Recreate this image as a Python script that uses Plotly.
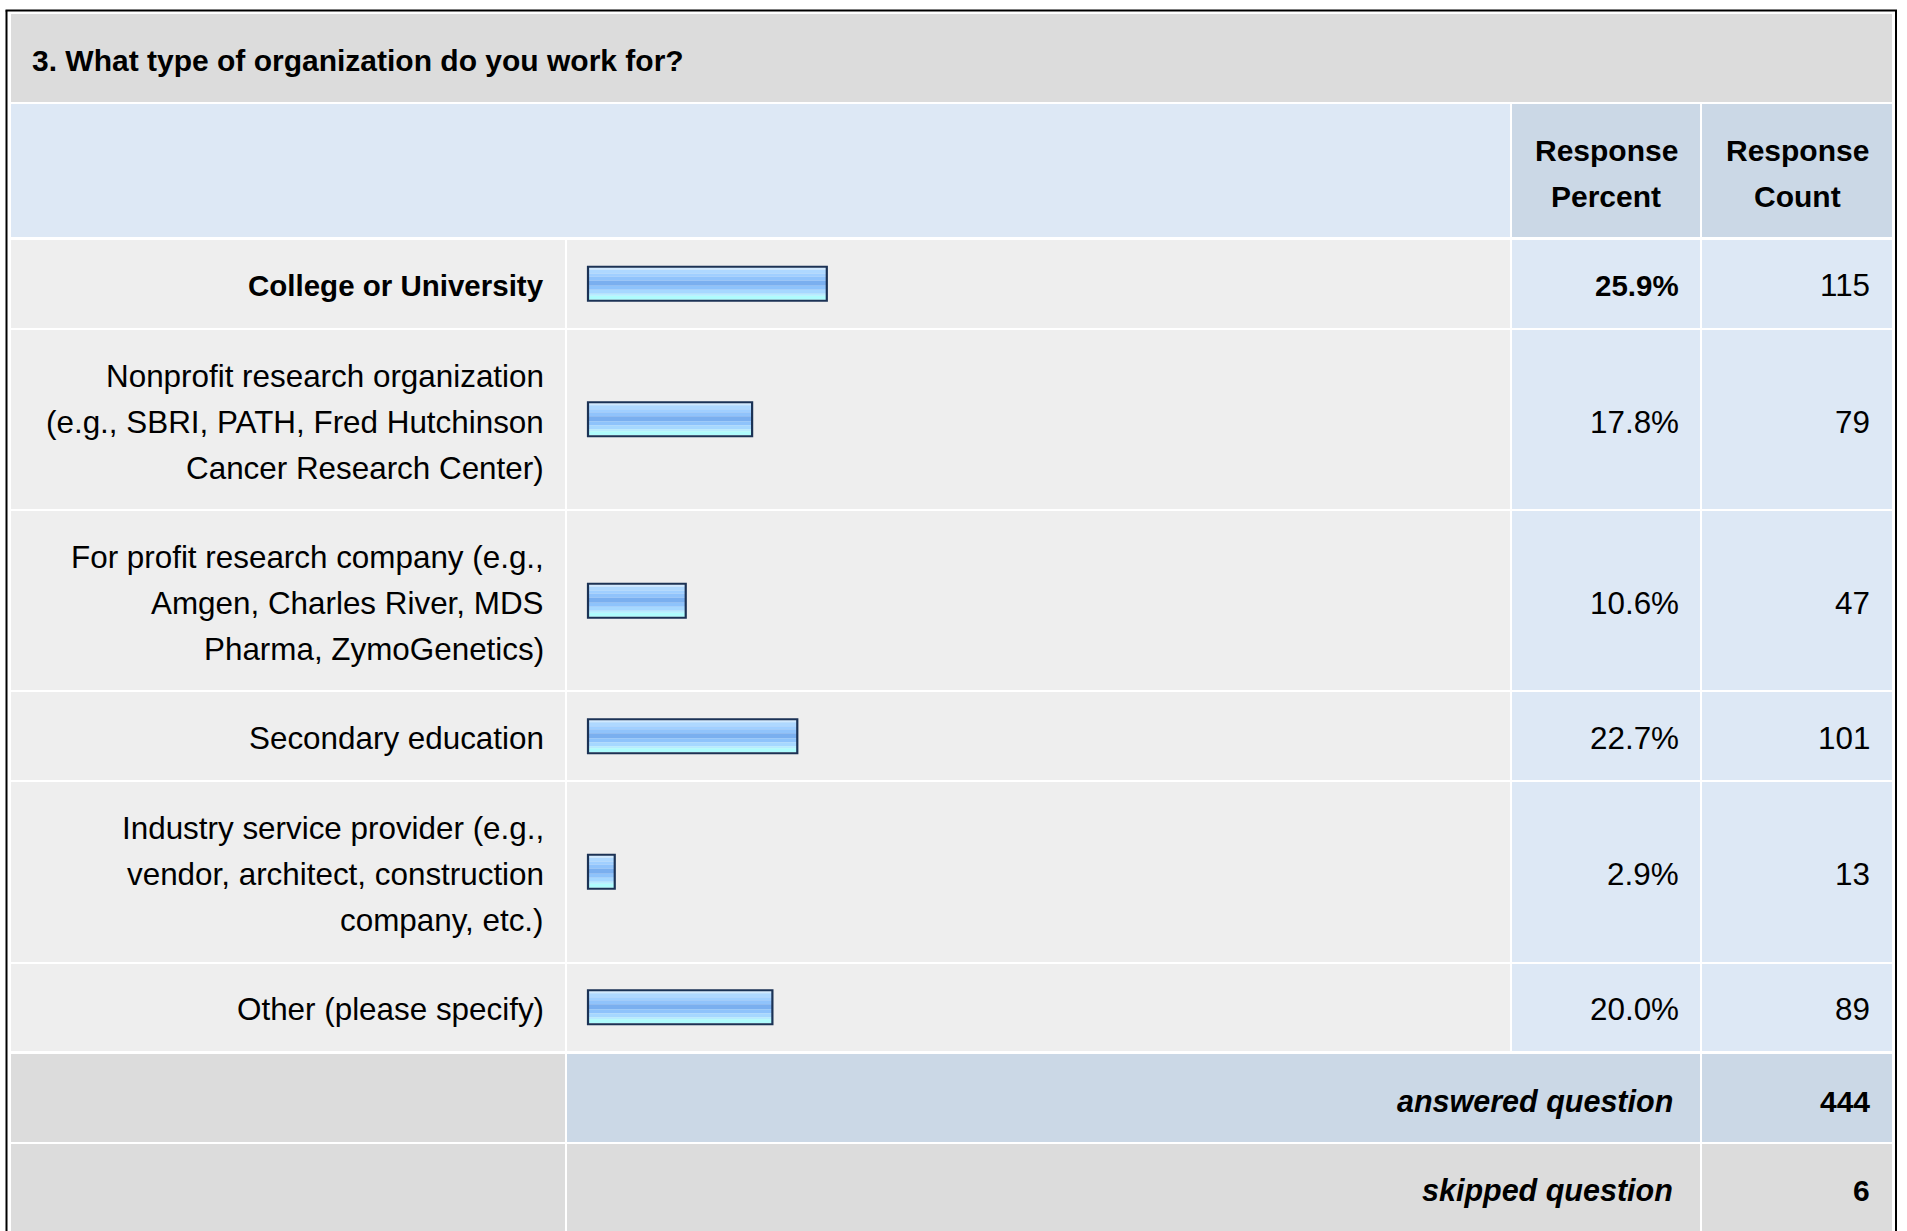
import plotly.graph_objects as go

# ---------------- data ----------------
title = "3. What type of organization do you work for?"
categories = [
    "College or University",
    "Nonprofit research organization<br>(e.g., SBRI, PATH, Fred Hutchinson<br>Cancer Research Center)",
    "For profit research company (e.g.,<br>Amgen, Charles River, MDS<br>Pharma, ZymoGenetics)",
    "Secondary education",
    "Industry service provider (e.g.,<br>vendor, architect, construction<br>company, etc.)",
    "Other (please specify)",
]
percents = [25.9, 17.8, 10.6, 22.7, 2.9, 20.0]
counts = [115, 79, 47, 101, 13, 89]
header_labels = ["Response<br>Percent", "Response<br>Count"]
answered_label = "answered question"
answered_count = 444
skipped_label = "skipped question"
skipped_count = 6

# ---------------- layout constants (pixels) ----------------
W, H = 1907, 1231
FONT = "Liberation Sans, Arial, Helvetica, sans-serif"
REG = 31.4
BOLD = 30
BOLD_ROW = 29.5
BOLD_IT = 30.5
LINE_H = 46
GAP = 2
PAD = 41.5
TEXT_DY = 3

COL_LABEL = (11, 565)
COL_BAR = (567, 1510)
COL_PCT = (1512, 1700)
COL_CNT = (1702, 1892)
TITLE_Y = (14, 102)
HEAD_Y = (104, 237)
ROW0 = 240
BAR_X0 = 588
PX_PER_PCT = 9.22

X_LABEL_R = 545.5
X_PCT_R = 1680.5
X_CNT_R = 1871.5
X_SUM_R = 1675
X_TITLE_L = 29.5

C_GRAY = "#dcdcdc"
C_ROW = "#eeeeee"
C_LBLUE = "#dde8f5"
C_MBLUE = "#cbd8e6"

STRIPES = [(2, "#cfe9ff"), (4, "#aed8ff"), (3, "#a0cfff"), (4, "#90c3fb"),
           (5, "#7aafef"), (4, "#8ec3fb"), (4, "#a6d8ff"), (2, "#b6ecff"),
           (4, "#affcfd")]
BAR_BORDER = "#1b3255"


def px(x):
    return x / W


def py(y):
    return 1 - y / H


shapes = []
annotations = []


def cell(x0, x1, y0, y1, color):
    shapes.append(dict(type="rect", xref="paper", yref="paper", layer="below",
                       x0=px(x0), x1=px(x1), y0=py(y1), y1=py(y0),
                       fillcolor=color, line=dict(width=0)))


def text(s, x, y, anchor, size, color="#000000"):
    annotations.append(dict(text=s, x=px(x), y=py(y + TEXT_DY), xref="paper", yref="paper",
                            xanchor=anchor, yanchor="middle", showarrow=False,
                            font=dict(family=FONT, size=size, color=color)))


def multiline(s, x, yc, anchor, size, wrap=("", "")):
    lines = s.split("<br>")
    n = len(lines)
    for i, ln in enumerate(lines):
        text(wrap[0] + ln + wrap[1], x, yc + (i - (n - 1) / 2) * LINE_H, anchor, size)


# title band
cell(COL_LABEL[0], COL_CNT[1], TITLE_Y[0], TITLE_Y[1], C_GRAY)
text("<b>" + title + "</b>", X_TITLE_L, (TITLE_Y[0] + TITLE_Y[1]) / 2 - 1, "left", BOLD)

# header band
cell(COL_LABEL[0], COL_BAR[1], HEAD_Y[0], HEAD_Y[1], C_LBLUE)
cell(COL_PCT[0], COL_PCT[1], HEAD_Y[0], HEAD_Y[1], C_MBLUE)
cell(COL_CNT[0], COL_CNT[1], HEAD_Y[0], HEAD_Y[1], C_MBLUE)
hc = (HEAD_Y[0] + HEAD_Y[1]) / 2 - 0.5
multiline(header_labels[0], (COL_PCT[0] + COL_PCT[1]) / 2, hc, "center", BOLD, ("<b>", "</b>"))
multiline(header_labels[1], (COL_CNT[0] + COL_CNT[1]) / 2, hc, "center", BOLD, ("<b>", "</b>"))

# data rows
top = ROW0
row_centers = []
best = max(percents)
for cat, p, c in zip(categories, percents, counts):
    n = len(cat.split("<br>"))
    h = PAD + LINE_H * n
    y0, y1 = round(top), round(top + h)
    cell(COL_LABEL[0], COL_LABEL[1], y0, y1, C_ROW)
    cell(COL_BAR[0], COL_BAR[1], y0, y1, C_ROW)
    cell(COL_PCT[0], COL_PCT[1], y0, y1, C_LBLUE)
    cell(COL_CNT[0], COL_CNT[1], y0, y1, C_LBLUE)
    yc = (top + top + h) / 2
    row_centers.append(yc)
    isbest = p == best
    wrap = ("<b>", "</b>") if isbest else ("", "")
    dy = -0.8 if n == 1 else 0
    multiline(cat, X_LABEL_R, yc + dy, "right", BOLD_ROW if isbest else REG, wrap)
    text(wrap[0] + f"{p:.1f}%" + wrap[1], X_PCT_R, yc + dy, "right", BOLD_ROW if isbest else REG)
    text(f"{c}", X_CNT_R, yc + dy, "right", REG)
    top += h + GAP

# answered row
top += 1
h = PAD + LINE_H
y0, y1 = round(top), round(top + h)
cell(COL_LABEL[0], COL_LABEL[1], y0, y1, C_GRAY)
cell(COL_BAR[0], COL_PCT[1], y0, y1, C_MBLUE)
cell(COL_CNT[0], COL_CNT[1], y0, y1, C_MBLUE)
yc = (top + top + h) / 2 + 1
text("<b><i>" + answered_label + "</i></b>", X_SUM_R, yc, "right", BOLD_IT)
text(f"<b>{answered_count}</b>", X_CNT_R, yc, "right", BOLD)
top += h + GAP + 1

# skipped row
y0 = round(top)
cell(COL_LABEL[0], COL_LABEL[1], y0, H + 20, C_GRAY)
cell(COL_BAR[0], COL_PCT[1], y0, H + 20, C_GRAY)
cell(COL_CNT[0], COL_CNT[1], y0, H + 20, C_GRAY)
yc = (top + top + h) / 2 - 1
text("<b><i>" + skipped_label + "</i></b>", X_SUM_R, yc, "right", BOLD_IT)
text(f"<b>{skipped_count}</b>", X_CNT_R, yc, "right", BOLD)

# outer border
for x0, x1, y0_, y1_ in [(6.5, 6.5, 10.5, H + 20), (5.5, 1897, 10.5, 10.5), (1896, 1896, 10.5, H + 20)]:
    shapes.append(dict(type="line", xref="paper", yref="paper", layer="above",
                       x0=px(x0), x1=px(x1), y0=py(y0_), y1=py(y1_),
                       line=dict(color="#000000", width=2)))

# ---------------- bars ----------------
fig = go.Figure()
inner = sum(s[0] for s in STRIPES)
off = -inner / 2
for hgt, col in STRIPES:
    fig.add_trace(go.Bar(x=percents, y=row_centers, orientation="h", width=hgt, offset=off,
                         marker=dict(color=col, line=dict(width=0)), hoverinfo="skip"))
    off += hgt
fig.add_trace(go.Bar(x=percents, y=row_centers, orientation="h", width=inner + 2, offset=-(inner + 2) / 2,
                     marker=dict(color="rgba(0,0,0,0)", line=dict(color=BAR_BORDER, width=2.2)),
                     hoverinfo="skip"))

xr = [(COL_BAR[0] - BAR_X0) / PX_PER_PCT, (COL_BAR[1] - BAR_X0) / PX_PER_PCT]
fig.update_layout(
    width=W, height=H, margin=dict(l=0, r=0, t=0, b=0, pad=0),
    paper_bgcolor="#ffffff", plot_bgcolor="rgba(0,0,0,0)",
    barmode="overlay", showlegend=False,
    xaxis=dict(domain=[px(COL_BAR[0]), px(COL_BAR[1])], range=xr, visible=False, fixedrange=True),
    yaxis=dict(domain=[0, 1], range=[H, 0], visible=False, fixedrange=True),
    shapes=shapes, annotations=annotations,
)

fig.write_html("out.html", config={"displayModeBar": False},
               post_script="document.body.style.margin='0';document.body.style.overflow='hidden';")
